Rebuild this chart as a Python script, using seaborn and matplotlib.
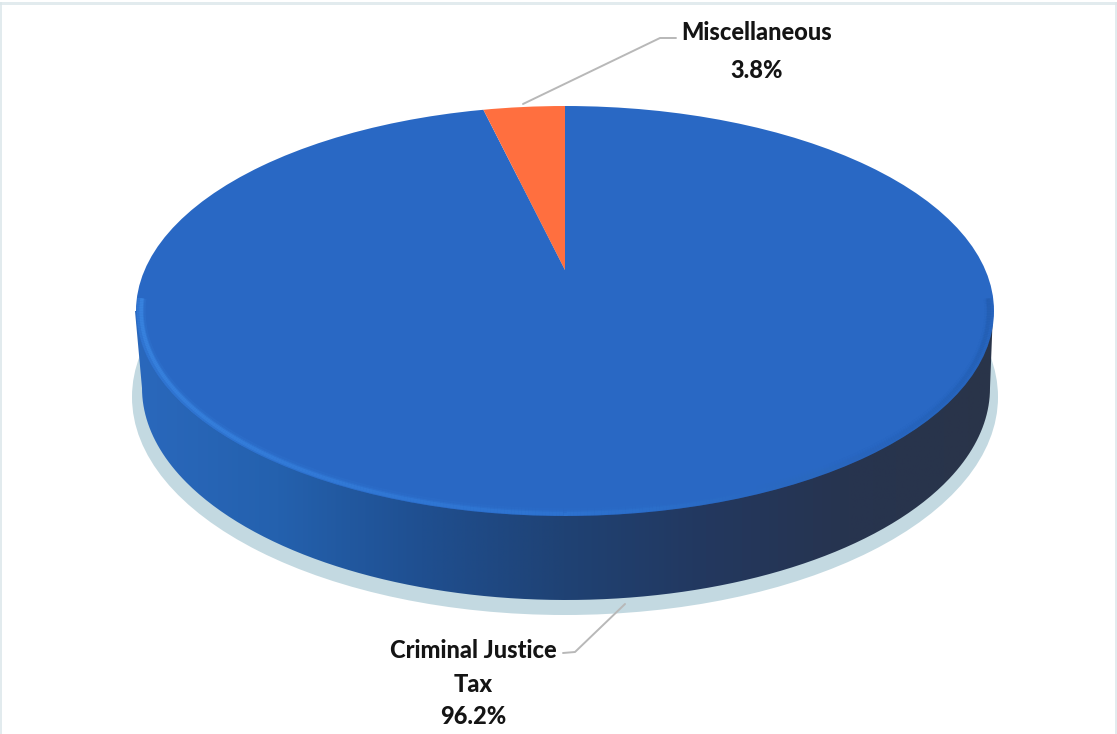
import numpy as np
import matplotlib
matplotlib.use("Agg")
import matplotlib.pyplot as plt
from matplotlib.patches import Ellipse, PathPatch, Rectangle
from matplotlib.path import Path
from matplotlib.collections import LineCollection
from matplotlib.colors import to_rgb
import seaborn as sns

categories = ["Miscellaneous", "Criminal Justice\nTax"]
shares = [3.8, 96.2]
share_labels = ["3.8%", "96.2%"]
slice_colors = ["#FF6F3F", "#2968C4"]

sns.set_theme(style="white")
plt.rcParams["font.family"] = ["Lato", "DejaVu Sans"]

W, H = 1117, 734
CX, CY, RX, RY = 565.0, 311.0, 429.0, 205.0
fx = lambda p: (np.asarray(p, float) - CX) / RX
fy = lambda p: (CY - np.asarray(p, float)) / RY

fig = plt.figure(figsize=(W / 100, H / 100), dpi=100, facecolor="white")
ax = fig.add_axes([0, 0, 1, 1])

# faint scan border
for (x0, y0, w, h) in [(0, 2, W, 3), (0, 2, 2, H), (W - 2, 2, 2, H)]:
    fig.add_artist(Rectangle((x0 / W, 1 - (y0 + h) / H), w / W, h / H, transform=fig.transFigure,
                             fc="#dbe6ea", ec="none", alpha=0.8))

# ground shadow
ax.add_patch(Ellipse((fx(565), fy(397)), 2 * 433 / RX, 2 * 218 / RY, fc="#c3d9e1", ec="none", zorder=1))

# side wall, shaded from left to right
t = np.linspace(np.pi, 2 * np.pi, 300)
low_cx, low_cy, low_rx, low_ry = 566.0, 388.0, 424.0, 212.0
wall_x = np.r_[fx(135), fx(low_cx + low_rx * np.cos(t)), fx(993)]
wall_y = np.r_[fy(CY), fy(low_cy - low_ry * np.sin(t)), fy(CY)]
wall = PathPatch(Path(np.c_[wall_x, wall_y]), transform=ax.transData, fc="none", ec="none")
ax.add_patch(wall)
wall_pal = sns.blend_palette(["#2A68BC", "#2461AE", "#1F4F90", "#1F4274", "#23385F", "#27344F", "#2A3449"], 256)
img = ax.imshow(np.array(wall_pal)[None, :, :], extent=(fx(135), fx(993), fy(610), fy(300)),
                aspect="auto", zorder=2, interpolation="bilinear")
img.set_clip_path(wall)

# top face: slices from a single pie, clipped to the tilted disc
disc = Ellipse((0, 0), 2, 2, transform=ax.transData)
wedges, _ = ax.pie(shares, colors=slice_colors, startangle=90, counterclock=True,
                   center=(0, fy(270)), radius=4.0)
for w in wedges:
    w.set_zorder(3)
    w.set_clip_on(True)
    w.set_clip_path(disc)
    w.set_edgecolor("none")
wedges[0].set_zorder(4)

# bevel on the front rim of the top face
a = np.linspace(np.pi * 0.98, 2.02 * np.pi, 400)
for scale, lw, alpha in [(0.992, 9, 0.18), (0.99, 5, 0.4), (0.988, 2.5, 0.8)]:
    px_ = np.c_[scale * np.cos(a), scale * np.sin(a)]
    segs = np.stack([px_[:-1], px_[1:]], axis=1)
    f = np.linspace(0, 1, len(segs))
    c0, c1, c2 = map(np.array, map(to_rgb, ["#3A86E2", "#3078D6", "#1E4F96"]))
    cols = np.where(f[:, None] < 0.5, c0 + (c1 - c0) * f[:, None] * 2, c1 + (c2 - c1) * (f[:, None] - 0.5) * 2)
    rgba = np.c_[cols, alpha * np.clip((1 - f) * 1.3, 0.25, 1)]
    lc = LineCollection(segs, colors=rgba, linewidths=lw, zorder=5, capstyle="butt")
    ax.add_collection(lc)
    lc.set_clip_path(disc)

# leader lines
ax.plot(fx([523, 660, 676]), fy([104, 38, 38]), color="#b8b8b8", lw=1.4, zorder=6)
ax.plot(fx([625, 575, 563]), fy([604, 652, 653]), color="#b8b8b8", lw=1.4, zorder=6)

# labels
txt = dict(ha="center", va="center", fontweight=900, fontsize=17, color="#141414", zorder=7)
ax.text(fx(757), fy(32), categories[0], **txt)
ax.text(fx(757), fy(71), share_labels[0], **txt)
ax.text(fx(473), fy(651), categories[1].split("\n")[0], **txt)
ax.text(fx(473), fy(684), categories[1].split("\n")[1], **txt)
ax.text(fx(473), fy(717), share_labels[1], **txt)

ax.set_aspect("auto")
ax.set_xlim(fx(0), fx(W))
ax.set_ylim(fy(H), fy(0))
ax.axis("off")
fig.savefig("out.png", dpi=100, facecolor="white")
